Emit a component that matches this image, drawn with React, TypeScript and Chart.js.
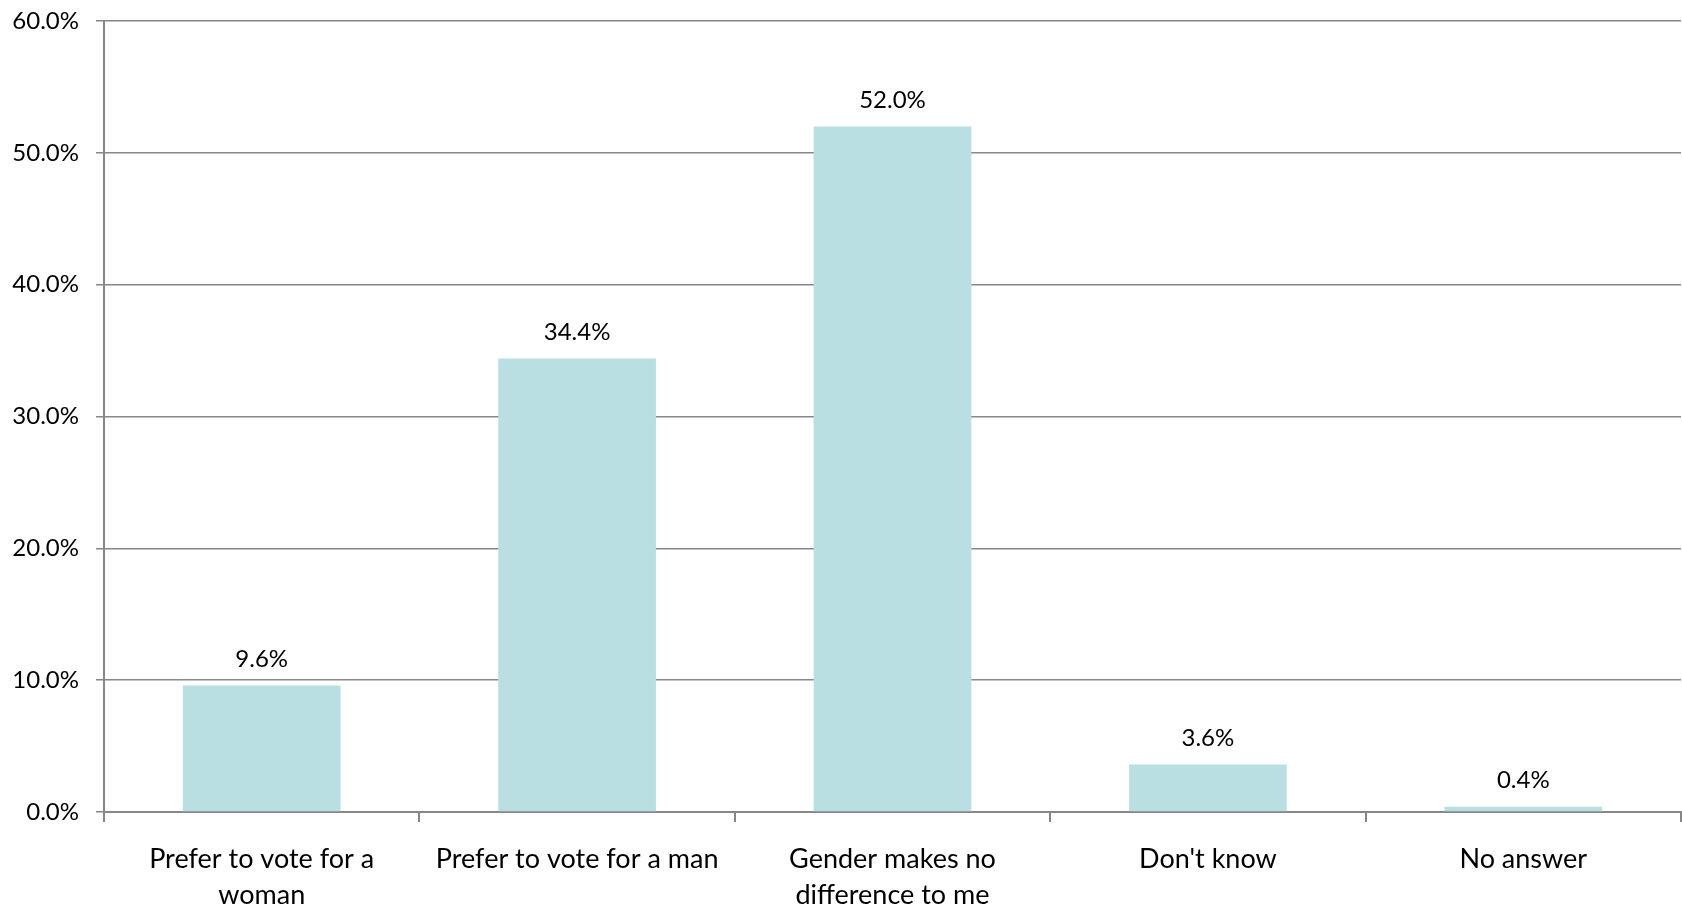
import React, { useEffect, useRef } from "react";
import { Chart, registerables } from "chart.js";

Chart.register(...registerables);

const categories: string[][] = [
  ["Prefer to vote for a", "woman"],
  ["Prefer to vote for a man"],
  ["Gender makes no", "difference to me"],
  ["Don't know"],
  ["No answer"],
];
const values: number[] = [9.6, 34.4, 52.0, 3.6, 0.4];
const yMax = 60;
const yStep = 10;

const FONT = "Lato, 'Open Sans', sans-serif";
const GRID = "#878787";
const BAR = "#B9DFE2";

const dataLabelPlugin = {
  id: "dataLabels",
  afterDatasetsDraw(chart: any) {
    const ctx = chart.ctx;
    const meta = chart.getDatasetMeta(0);
    ctx.save();
    ctx.font = `24px ${FONT}`;
    ctx.fillStyle = "#000";
    ctx.textAlign = "center";
    ctx.textBaseline = "middle";
    meta.data.forEach((el: any, i: number) => {
      const v = chart.data.datasets[0].data[i] as number;
      ctx.fillText(v.toFixed(1) + "%", el.x, el.y - 26);
    });
    ctx.restore();
  },
};

export default function App() {
  const ref = useRef<HTMLCanvasElement | null>(null);
  useEffect(() => {
    if (!ref.current) return;
    const chart = new Chart(ref.current, {
      type: "bar",
      data: {
        labels: categories,
        datasets: [
          {
            data: values,
            backgroundColor: BAR,
            borderWidth: 0,
            barPercentage: 0.5,
            categoryPercentage: 1,
          },
        ],
      },
      options: {
        animation: false,
        responsive: false,
        layout: { padding: { top: 21, right: 1, left: 0, bottom: 0 } },
        plugins: { legend: { display: false }, tooltip: { enabled: false } },
        scales: {
          x: {
            offset: true,
            grid: {
              offset: true,
              drawOnChartArea: false,
              drawTicks: true,
              tickLength: 10,
              color: GRID,
              lineWidth: 2,
            },
            border: { color: GRID, width: 2 },
            ticks: {
              color: "#000",
              font: { family: FONT, size: 27, lineHeight: 1.33 },
              padding: 19,
              maxRotation: 0,
              autoSkip: false,
            },
            afterFit(scale: any) {
              scale.height = 96;
            },
          },
          y: {
            min: 0,
            max: yMax,
            ticks: {
              stepSize: yStep,
              color: "#000",
              font: { family: FONT, size: 24 },
              padding: 17,
              callback: (v: any) => Number(v).toFixed(1) + "%",
            },
            grid: { color: GRID, lineWidth: 1.5, tickLength: 8 },
            border: { color: GRID, width: 2 },
            afterFit(scale: any) {
              scale.width = 104;
              scale.paddingTop = 0;
              scale.paddingBottom = 0;
            },
          },
        },
      },
      plugins: [dataLabelPlugin],
    });
    return () => chart.destroy();
  }, []);
  return (
    <div style={{ position: "fixed", left: 0, top: 0, width: 1682, height: 908, background: "#fff" }}>
      <canvas ref={ref} width={1682} height={908} />
    </div>
  );
}
